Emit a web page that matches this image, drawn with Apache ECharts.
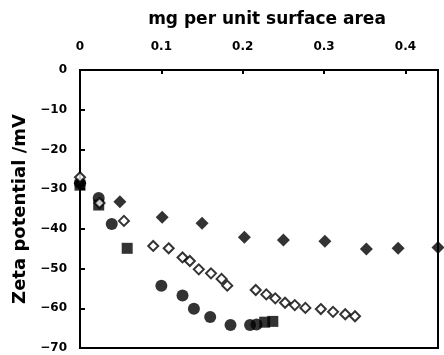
<!DOCTYPE html>
<html>
<head>
<meta charset="utf-8">
<script src="https://cdn.jsdelivr.net/npm/echarts@6/dist/echarts.min.js"></script>
<style>html,body{margin:0;padding:0;background:#fff}#c{width:444px;height:355px}</style>
</head>
<body>
<div id="c"></div>
<script>
var xTicks = [0, 0.1, 0.2, 0.3, 0.4];
var yTicks = [0, -10, -20, -30, -40, -50, -60, -70];

var filledDiamondX = [0, 0.049, 0.101, 0.150, 0.202, 0.250, 0.301, 0.352, 0.391, 0.440];
var filledDiamondY = [-28.5, -33.2, -37.1, -38.6, -42.1, -42.8, -43.1, -45.1, -44.9, -44.7];

var openDiamondX = [0, 0.024, 0.054, 0.090, 0.109, 0.126, 0.135, 0.146, 0.161, 0.174, 0.181, 0.216, 0.229, 0.240, 0.252, 0.264, 0.277, 0.296, 0.311, 0.326, 0.338];
var openDiamondY = [-27.0, -33.5, -38.0, -44.3, -44.9, -47.2, -48.1, -50.2, -51.2, -52.6, -54.3, -55.4, -56.5, -57.5, -58.6, -59.2, -59.9, -60.2, -60.9, -61.5, -62.0];

var circleX = [0, 0.023, 0.039, 0.100, 0.126, 0.140, 0.160, 0.185, 0.209, 0.217];
var circleY = [-28.5, -32.2, -38.8, -54.3, -56.8, -60.1, -62.2, -64.2, -64.2, -64.1];

var squareX = [0, 0.023, 0.058, 0.227, 0.237];
var squareY = [-29.0, -34.0, -44.9, -63.5, -63.3];

function pairs(xs, ys) { return xs.map(function (x, i) { return [x, ys[i]]; }); }

var font = 'DejaVu Sans';
var chart = echarts.init(document.getElementById('c'));
chart.setOption({
  animation: false,
  backgroundColor: '#fff',
  grid: { left: 80, top: 70, right: 6, bottom: 7, show: true, borderColor: '#000', borderWidth: 2, backgroundColor: 'transparent' },
  xAxis: {
    type: 'value', position: 'top', min: 0, max: 0.44, interval: 0.1,
    name: 'mg per unit surface area', nameLocation: 'middle', nameGap: 42,
    nameTextStyle: { color: '#000', fontFamily: font, fontWeight: 'bold', fontSize: 17, padding: [0, 0, 0, 16] },
    axisLine: { show: true, lineStyle: { color: '#000', width: 2 } },
    axisTick: { show: true, inside: true, length: 4, lineStyle: { color: '#000', width: 2 },
      customValues: xTicks },
    axisLabel: { color: '#000', fontFamily: font, fontWeight: 'bold', fontSize: 12, margin: 17,
      customValues: xTicks,
      formatter: function (v) { return Math.abs(v * 10 - Math.round(v * 10)) < 1e-6 ? String(v) : ''; } },
    splitLine: { show: false }
  },
  yAxis: {
    type: 'value', min: -70, max: 0, interval: 10,
    name: 'Zeta potential /mV', nameLocation: 'middle', nameGap: 50, nameRotate: 90,
    nameTextStyle: { color: '#000', fontFamily: font, fontWeight: 'bold', fontSize: 18 },
    axisLine: { show: true, lineStyle: { color: '#000', width: 2 } },
    axisTick: { show: true, inside: true, length: 5, lineStyle: { color: '#000', width: 2 } },
    axisLabel: { color: '#000', fontFamily: font, fontWeight: 'bold', fontSize: 12, margin: 13,
      formatter: function (v) { return v < 0 ? '\u2212' + Math.abs(v) : String(v); } },
    splitLine: { show: false }
  },
  series: [
    { type: 'scatter', data: pairs(squareX, squareY), symbol: 'rect', symbolSize: 11,
      itemStyle: { color: '#000' } },
    { type: 'scatter', data: pairs(circleX, circleY), symbol: 'circle', symbolSize: 12,
      itemStyle: { color: '#000' } },
    { type: 'scatter', data: pairs(filledDiamondX, filledDiamondY), symbol: 'diamond', symbolSize: 13,
      itemStyle: { color: '#000' } },
    { type: 'scatter', data: pairs(openDiamondX, openDiamondY), symbol: 'diamond', symbolSize: 10,
      itemStyle: { color: '#fff', borderColor: '#000', borderWidth: 2 } }
  ]
});
</script>
</body>
</html>
